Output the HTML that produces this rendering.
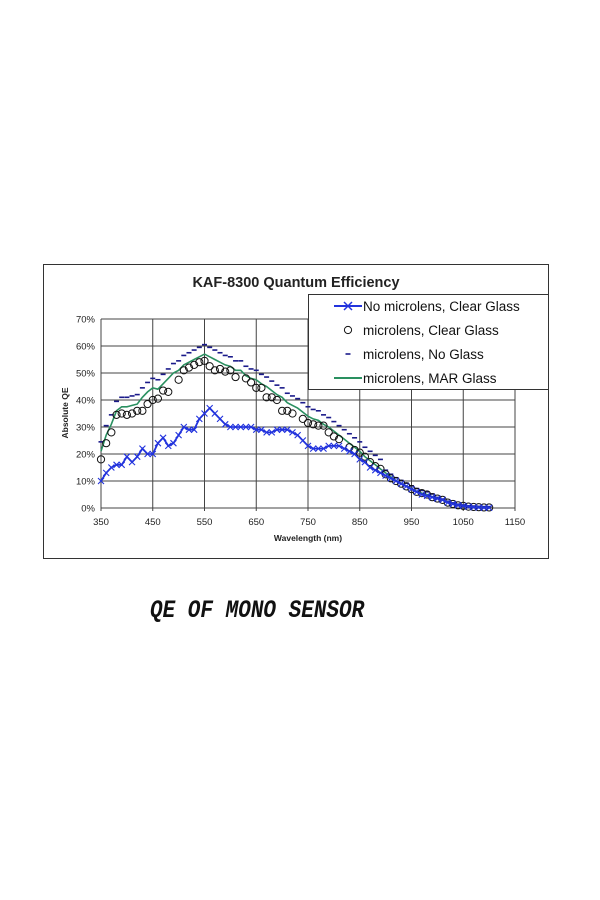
<!DOCTYPE html>
<html><head><meta charset="utf-8"><style>
html,body{margin:0;padding:0;background:#fff;width:600px;height:900px;overflow:hidden}
svg{position:absolute;left:0;top:0}
.cap{position:absolute;left:150px;top:598px;font-family:"Liberation Mono",monospace;font-weight:bold;font-style:italic;font-size:21px;letter-spacing:0px;transform:scaleY(1.18);transform-origin:left top;color:#111;white-space:pre}
</style></head><body>
<svg id="s" width="600" height="900" xmlns="http://www.w3.org/2000/svg"></svg>
<div class="cap">QE OF MONO SENSOR</div>
<script>
var s=document.getElementById('s');var h='';
function X(w){return 101+(w-350)*0.5175;}
function Y(v){return 508-v*2.7;}
h+='<rect x="43.5" y="264.5" width="505" height="294" fill="#fff" stroke="#333" stroke-width="1"/>';
for(var i=0;i<=7;i++){var y=Y(i*10);h+='<line x1="101" x2="515" y1="'+y+'" y2="'+y+'" stroke="#444" stroke-width="1"/>';
h+='<text x="95" y="'+(y+3.5)+'" font-family="Liberation Sans" font-size="9.5" text-anchor="end" fill="#222">'+(i*10)+'%</text>';}
for(var w=350;w<=1150;w+=100){var x=X(w);h+='<line x1="'+x+'" x2="'+x+'" y1="319" y2="511" stroke="#444" stroke-width="1"/>';
h+='<text x="'+x+'" y="525" font-family="Liberation Sans" font-size="9.5" text-anchor="middle" fill="#222">'+w+'</text>';}
h+='<text x="308" y="541" font-family="Liberation Sans" font-size="8.5" font-weight="bold" text-anchor="middle" fill="#222">Wavelength (nm)</text>';
h+='<text transform="translate(68,413) rotate(-90)" font-family="Liberation Sans" font-size="8.5" font-weight="bold" text-anchor="middle" fill="#222">Absolute QE</text>';
h+='<text x="296" y="287" font-family="Liberation Sans" font-size="14.5" font-weight="bold" text-anchor="middle" fill="#222">KAF-8300 Quantum Efficiency</text>';
var blue=[10,13,15,16,16,19,17,19,22,20,20,24,26,23,24,27,30,29,29,33,35,37,35,33,31,30,30,30,30,30,29,29,28,28,29,29,29,28,27,25,23,22,22,22,23,23,23,22,21,20,18,17,15,14,13,12,11,10,9,8,7,6,5,4.5,4,3.5,3,2,1.5,1,0.8,0.5,0.3,0.2,0.1,0.1];
var circ=[18,24,28,34.5,35,34.5,35,36,36,38.5,40,40.5,43.5,43,null,47.5,51,52,53,54,54.5,52.5,51,51.5,50.5,51,48.5,null,48,46.5,44.5,44.5,41,41,40,36,36,35,null,33,31.5,31,30.5,30.5,28,26.5,25.5,null,22.5,21.5,20.5,19,17,15.5,14.5,12.5,11,10,9,8,7,6,5.5,5,4,3.5,3,2,1.5,1,0.8,0.5,0.4,0.3,0.2,0.2];
var grn=[21,27,31,36,37.5,37.5,38,38.5,41,43,44.5,44,46,48,50,51,53,54,55,56,57,56,55,54,53,52.5,51,51,49,48,47.5,46,45,43.5,42,41,39,38,37,35.5,34,33,32.5,31,30,28.5,27,25.5,24,22.5,21,19,17.5,16,14.5,13,11.5,10.2,9.2,8.2,7.2,6.2,5.5,5,4.2,3.6,3,2.2,1.6,1.1,0.8,0.5,0.4,0.3,0.2,0.2];
for(var i=0;i<grn.length;i++){var w=350+i*10;var off=w<900?3.5:(w<1000?1:0.3);var x=X(w),y=Y(grn[i]+off);
h+='<line x1="'+(x-2.5)+'" x2="'+(x+2.5)+'" y1="'+y+'" y2="'+y+'" stroke="#1a1a8a" stroke-width="1.6"/>';}
var p='';for(var i=0;i<grn.length;i++){p+=(i?'L':'M')+X(350+i*10).toFixed(1)+' '+Y(grn[i]).toFixed(1);}
h+='<path d="'+p+'" fill="none" stroke="#2a9060" stroke-width="1.6"/>';
for(var i=0;i<circ.length;i++){if(circ[i]==null)continue;h+='<circle cx="'+X(350+i*10)+'" cy="'+Y(circ[i])+'" r="3.6" fill="none" stroke="#111" stroke-width="1"/>';}
p='';for(var i=0;i<blue.length;i++){p+=(i?'L':'M')+X(350+i*10).toFixed(1)+' '+Y(blue[i]).toFixed(1);}
h+='<path d="'+p+'" fill="none" stroke="#2233dd" stroke-width="1.8"/>';
for(var i=0;i<blue.length;i++){var x=X(350+i*10),y=Y(blue[i]);h+='<path d="M'+(x-3)+' '+(y-3)+'L'+(x+3)+' '+(y+3)+'M'+(x-3)+' '+(y+3)+'L'+(x+3)+' '+(y-3)+'" stroke="#2233dd" stroke-width="1.1"/>';}
h+='<rect x="308.5" y="294.5" width="240" height="95" fill="#fff" stroke="#333" stroke-width="1"/>';
var lt=["No microlens, Clear Glass","microlens, Clear Glass","microlens, No Glass","microlens, MAR Glass"];
for(var k=0;k<4;k++){var y=306+k*24;h+='<text x="363" y="'+(y+5)+'" font-family="Liberation Sans" font-size="13.5" fill="#111">'+lt[k]+'</text>';}
h+='<line x1="334" x2="362" y1="306" y2="306" stroke="#2233dd" stroke-width="2"/><path d="M344 302L352 310M344 310L352 302" stroke="#2233dd" stroke-width="1.5"/>';
h+='<circle cx="348" cy="330" r="3.6" fill="none" stroke="#111" stroke-width="1"/>';
h+='<line x1="345.5" x2="350.5" y1="354" y2="354" stroke="#1a1a8a" stroke-width="1.6"/>';
h+='<line x1="334" x2="362" y1="378" y2="378" stroke="#2a9060" stroke-width="2"/>';
s.innerHTML=h;
</script>
</body></html>
